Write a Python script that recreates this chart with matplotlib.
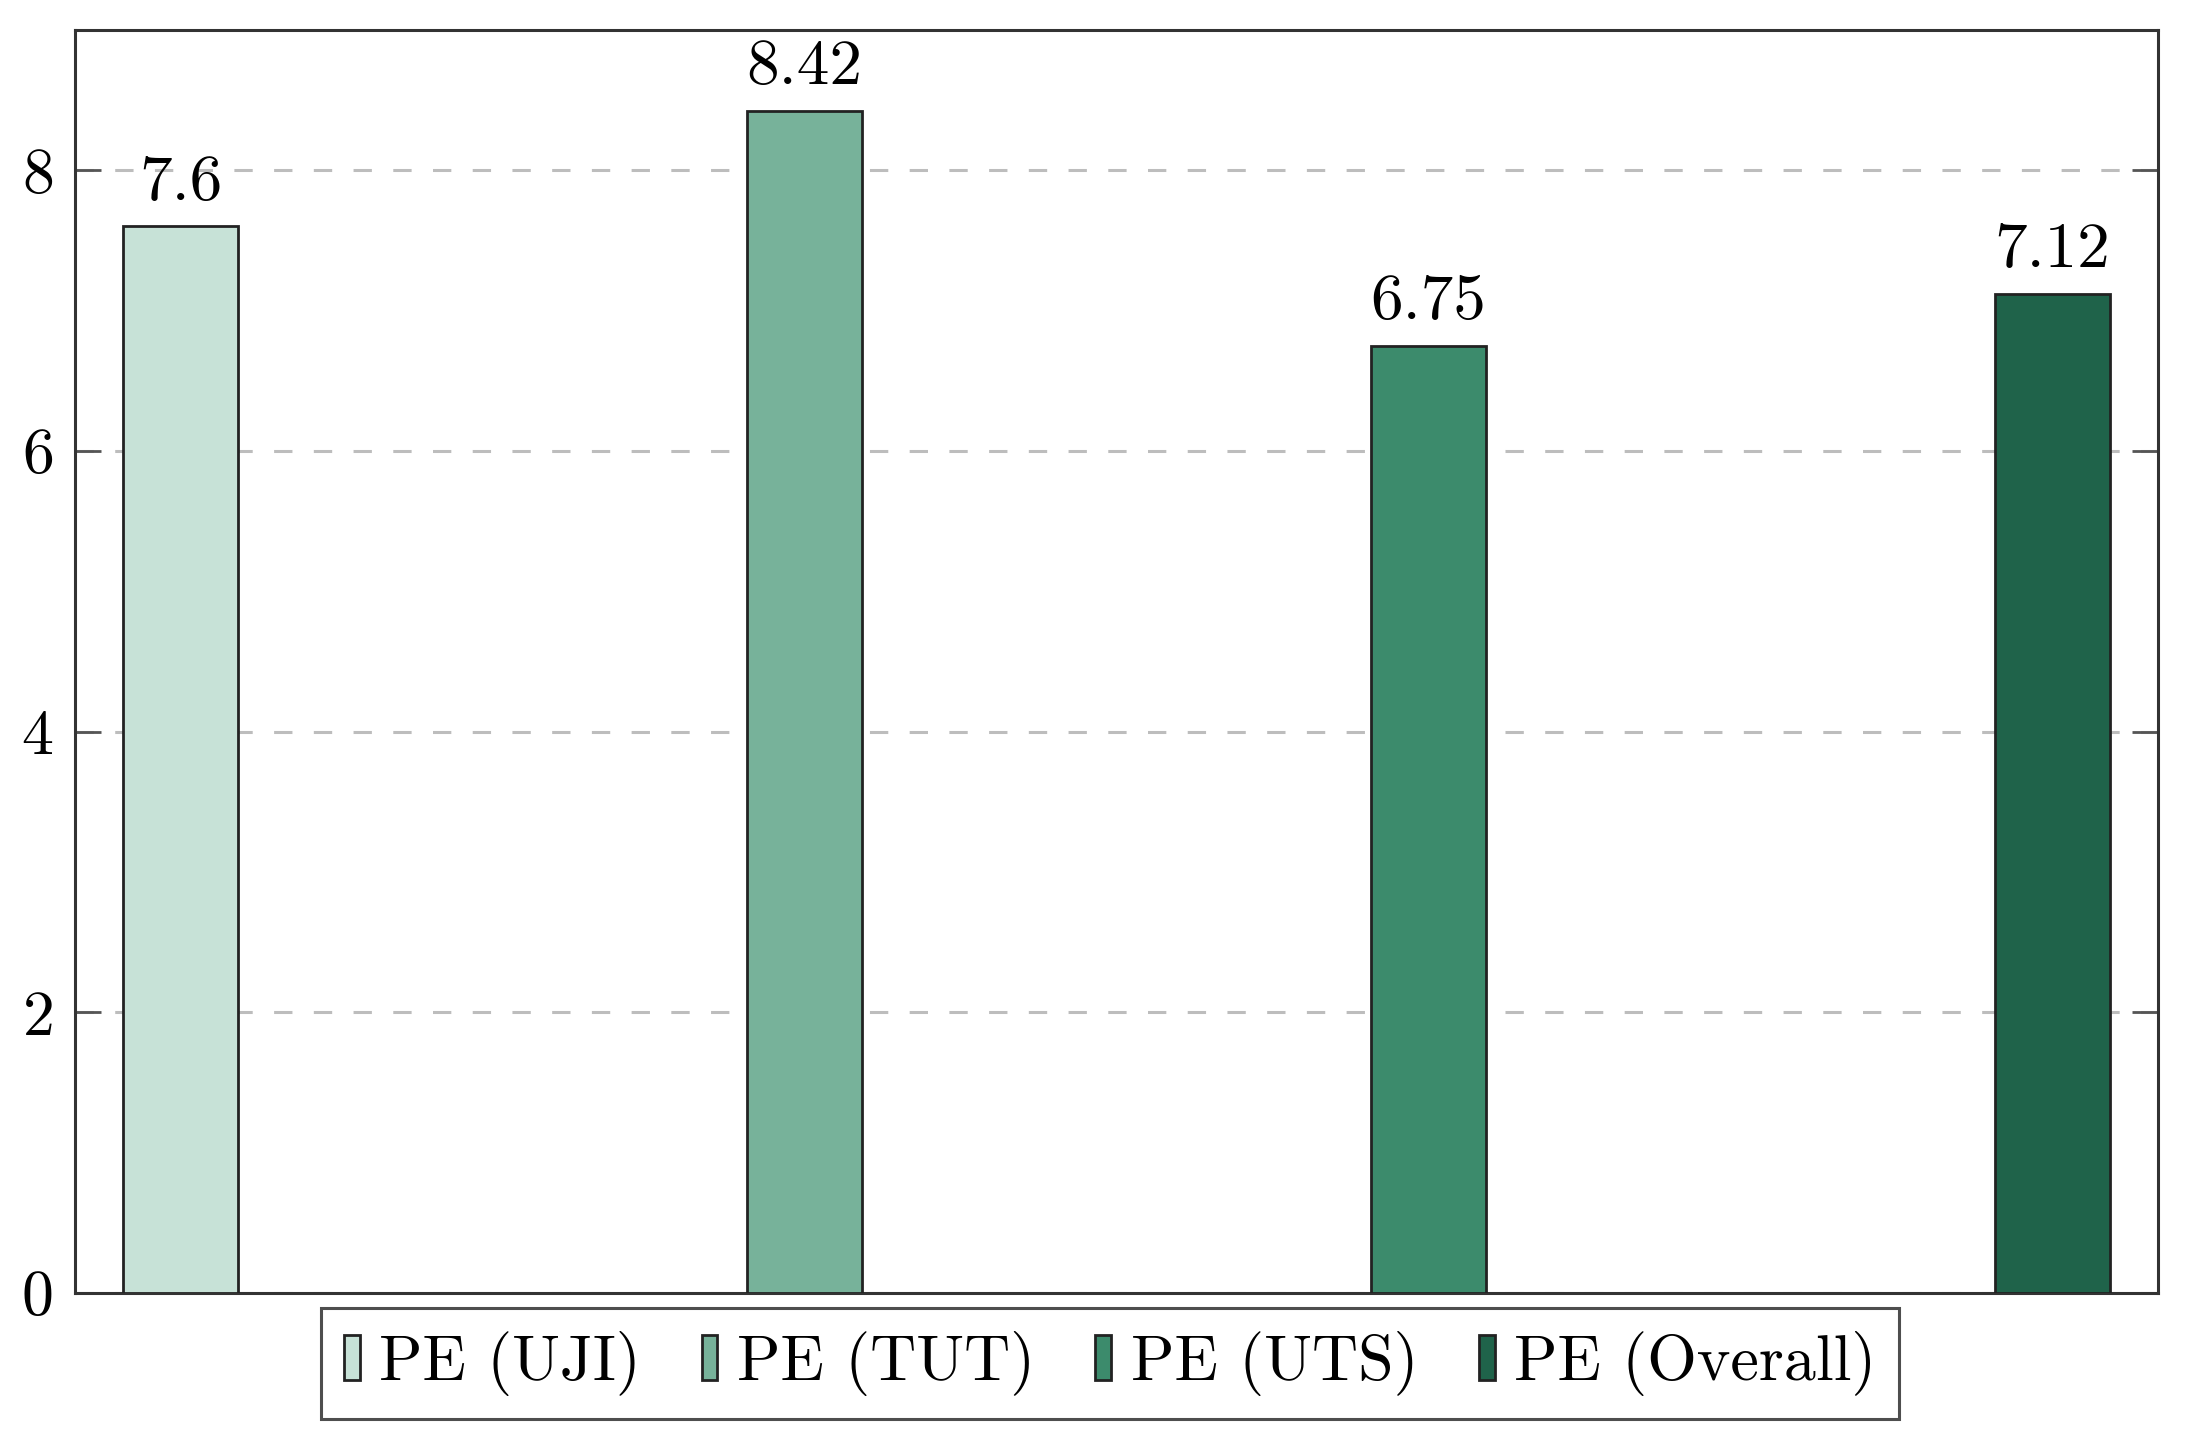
import numpy as np
import matplotlib
matplotlib.use("Agg")
import matplotlib.pyplot as plt

plt.rcParams['font.family'] = ['cmr10', 'DejaVu Serif']
plt.rcParams['axes.formatter.use_mathtext'] = True

labels = ["PE (UJI)", "PE (TUT)", "PE (UTS)", "PE (Overall)"]
values = [7.6, 8.42, 6.75, 7.12]
colors = ["#c7e2d7", "#77b29a", "#3c8b6c", "#1f634a"]
yticks = [0, 2, 4, 6, 8]

fig = plt.figure(figsize=(10.93, 7.2), dpi=200)
ax = fig.add_axes([0.0343, 0.1021, 0.9529, 0.8771])

x = np.arange(len(values))
for i in range(len(values)):
    b = ax.bar(x[i], values[i], width=0.184, color=colors[i], edgecolor="#222222",
               linewidth=1.0, label=labels[i], zorder=3)
    ax.bar_label(b, labels=["%g" % values[i]], padding=5, fontsize=23.5)

ax.set_xlim(-0.169, 3.169)
ax.set_ylim(0, 9)
ax.set_yticks(yticks)
ax.set_xticks([])
ax.tick_params(axis='y', direction='in', length=9.5, width=1.0, pad=8,
               labelsize=23, right=True, color="#555555")
ax.yaxis.grid(True, ls=(0, (6, 7)), color="#bdbdbd", lw=1.1, zorder=0)
ax.set_axisbelow(True)
for s in ax.spines.values():
    s.set_linewidth(1.1)
    s.set_color("#333333")

leg = fig.legend(loc='upper center', bbox_to_anchor=(0.5078, 0.0917), ncol=4,
                 fontsize=23, frameon=True, fancybox=False, borderaxespad=0,
                 handlelength=0.25, handleheight=0.7, handletextpad=0.3,
                 columnspacing=0.95, borderpad=0.36)
leg.get_frame().set_edgecolor("#222222")
leg.get_frame().set_linewidth(1.1)

fig.savefig("out.png", dpi=200)
